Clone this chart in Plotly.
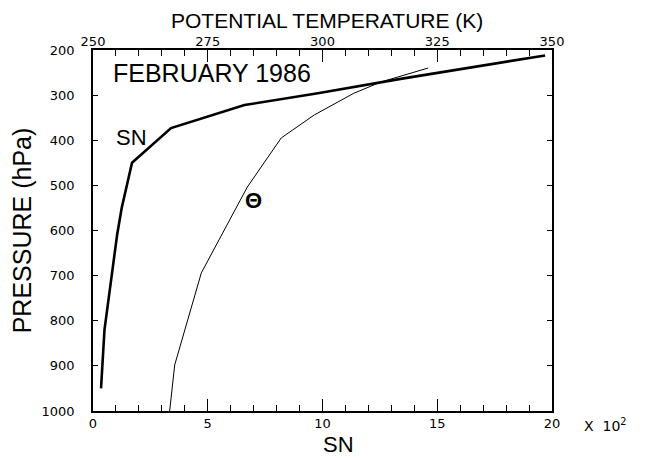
import plotly.graph_objects as go

# SN profile (x10^2) vs pressure (hPa)
sn_values = [0.35, 0.5, 1.05, 1.25, 1.7, 3.4, 6.6, 9.8, 13.4, 19.7]
sn_pressure = [950, 820, 610, 550, 450, 373, 322, 296, 264, 212]

# Potential temperature (K) vs pressure (hPa)
theta_values = [266.7, 267.8, 273.6, 278.6, 283.6, 291.0, 298.2, 306.8, 312.7, 323.0]
theta_pressure = [1000, 898, 694, 600, 504, 395, 344, 296, 271, 240]

x_ticks = [0, 5, 10, 15, 20]
theta_ticks = [250, 275, 300, 325, 350]
p_ticks = [200, 300, 400, 500, 600, 700, 800, 900, 1000]

FONT = "Liberation Sans"
TICKFONT = dict(family="DejaVu Sans", size=13, color="black")

fig = go.Figure()
fig.add_trace(go.Scatter(x=sn_values, y=sn_pressure, mode="lines",
                         line=dict(color="black", width=2.6), xaxis="x", yaxis="y",
                         showlegend=False, hoverinfo="skip"))
fig.add_trace(go.Scatter(x=theta_values, y=theta_pressure, mode="lines",
                         line=dict(color="black", width=1), xaxis="x2", yaxis="y",
                         showlegend=False, hoverinfo="skip"))

fig.update_layout(
    width=651, height=460,
    margin=dict(l=83, r=107, t=42, b=57),
    paper_bgcolor="white", plot_bgcolor="white",
    xaxis=dict(range=[0, 20], tickvals=x_ticks, ticks="inside", ticklen=12,
               tickwidth=1.2, tickcolor="black", showline=True, linecolor="black",
               linewidth=1.5, showgrid=False, zeroline=False, tickfont=TICKFONT,
               minor=dict(dtick=1, ticks="inside", ticklen=6, tickcolor="black", showgrid=False)),
    xaxis2=dict(range=[250, 350], tickvals=theta_ticks, ticks="inside", ticklen=12,
                tickwidth=1.2, tickcolor="black", showline=True, linecolor="black",
                linewidth=1.5, showgrid=False, zeroline=False, overlaying="x", side="top",
                tickfont=TICKFONT, anchor="y", ticklabelstandoff=-3,
                minor=dict(dtick=5, ticks="inside", ticklen=6, tickcolor="black", showgrid=False)),
    yaxis=dict(range=[1000, 200], tickvals=p_ticks, ticks="inside", ticklen=5,
               tickwidth=1.2, tickcolor="black", showline=True, linecolor="black",
               linewidth=1.5, mirror="ticks", showgrid=False, zeroline=False,
               tickfont=TICKFONT, ticklabelstandoff=14,
               title=dict(text="PRESSURE (hPa)", font=dict(family=FONT, size=25, color="black"), standoff=4)),
    annotations=[
        dict(text="POTENTIAL TEMPERATURE (K)", xref="paper", yref="paper", x=0.51, y=1.0,
             yshift=30, showarrow=False, xanchor="center", yanchor="middle",
             font=dict(family=FONT, size=21, color="black")),
        dict(text="SN", xref="paper", yref="paper", x=0.534, y=0, yshift=-33,
             showarrow=False, xanchor="center", yanchor="middle",
             font=dict(family=FONT, size=22, color="black")),
        dict(text="FEBRUARY 1986", xref="x", yref="y", x=0.8, y=251, showarrow=False,
             xanchor="left", yanchor="middle", font=dict(family=FONT, size=25, color="black")),
        dict(text="SN", xref="x", yref="y", x=0.9, y=395, showarrow=False,
             xanchor="left", yanchor="middle", font=dict(family=FONT, size=22, color="black")),
        dict(text="<b>Θ</b>", xref="x", yref="y", x=7.0, y=533, showarrow=False,
             xanchor="center", yanchor="middle", font=dict(family=FONT, size=22, color="black")),
        dict(text="X  10<sup>2</sup>", xref="paper", yref="paper", x=1.065, y=0, yshift=-14,
             showarrow=False, xanchor="left", yanchor="middle",
             font=dict(family="DejaVu Sans", size=14, color="black")),
    ],
)

fig.write_html("out.html")
